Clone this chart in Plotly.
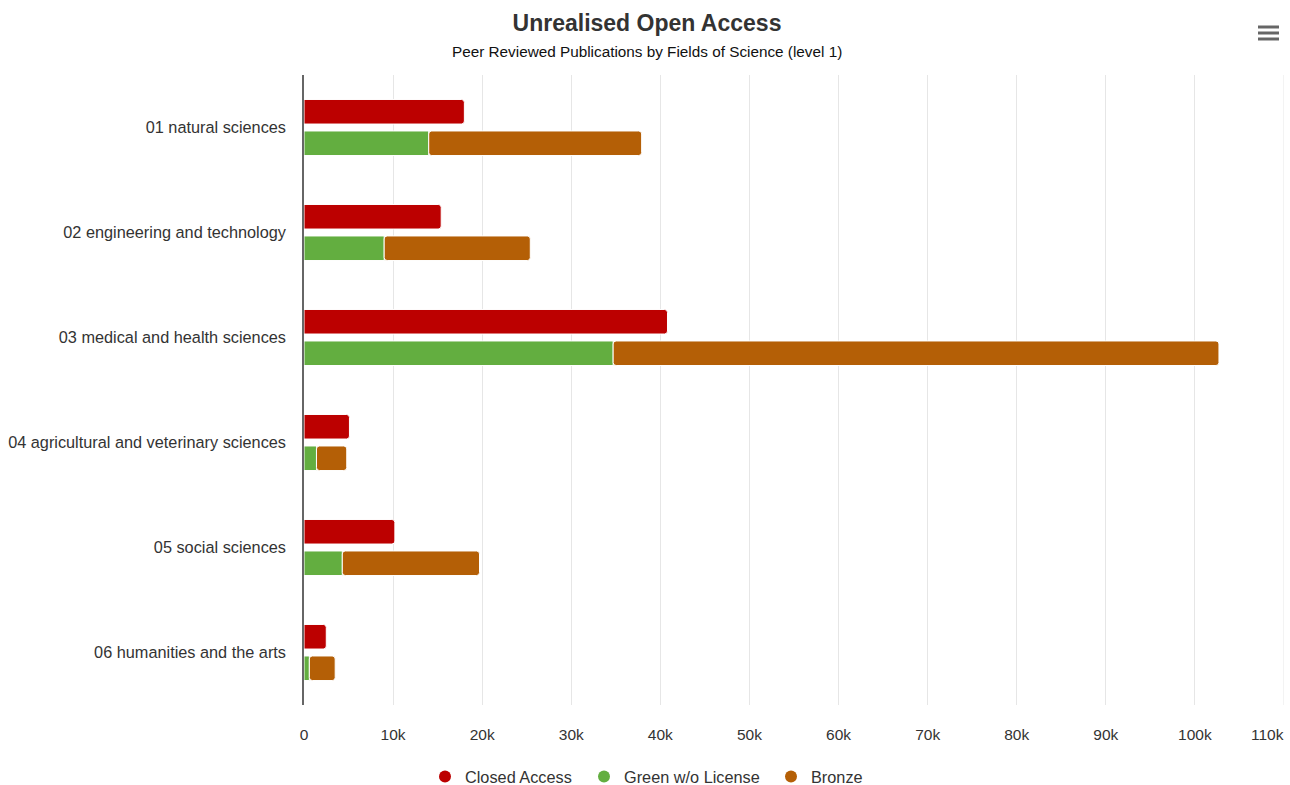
import plotly.graph_objects as go

categories = [
    "01 natural sciences",
    "02 engineering and technology",
    "03 medical and health sciences",
    "04 agricultural and veterinary sciences",
    "05 social sciences",
    "06 humanities and the arts",
]
closed_access = [18000, 15400, 40800, 5100, 10200, 2500]
green_no_license = [14000, 9000, 34700, 1400, 4300, 600]
bronze = [23900, 16400, 68000, 3400, 15400, 2900]

series_names = ["Closed Access", "Green w/o License", "Bronze"]
colors = ["#bc0000", "#63ae40", "#b45f06"]

x_max = 110000
x_tick_step = 10000
x_tick_values = list(range(0, 100001, x_tick_step))
x_tick_labels = ["0" if v == 0 else f"{v // 1000}k" for v in x_tick_values]
last_tick_label = "110k"

FONT = "Liberation Sans, Arial, Helvetica, sans-serif"

fig = go.Figure()
fig.add_trace(go.Bar(
    y=categories, x=closed_access, orientation="h", name=series_names[0],
    offsetgroup="a", marker=dict(color=colors[0], line=dict(color="white", width=1), cornerradius=3),
    showlegend=False,
))
fig.add_trace(go.Bar(
    y=categories, x=green_no_license, orientation="h", name=series_names[1],
    offsetgroup="b", marker=dict(color=colors[1], line=dict(color="white", width=1)),
    showlegend=False,
))
fig.add_trace(go.Bar(
    y=categories, x=bronze, base=green_no_license, orientation="h", name=series_names[2],
    offsetgroup="b", marker=dict(color=colors[2], line=dict(color="white", width=1), cornerradius=3),
    showlegend=False,
))

L, R, T, B = 304, 6, 75, 80
W, H = 1290, 785
pw, ph = W - L - R, H - T - B

def px_x(x):
    return (x - L) / pw

def px_y(y):
    return (H - B - y) / ph

# legend entries with circle symbols, each in its own legend box
legend_keys = ["legend", "legend2", "legend3"]
legend_circle_px = [445, 604, 791]
for name, c, lk in zip(series_names, colors, legend_keys):
    fig.add_trace(go.Scatter(
        x=[None], y=[None], mode="markers", name=name, legend=lk,
        marker=dict(color=c, size=16, symbol="circle"),
    ))

legend_layout = {}
for lk, cx in zip(legend_keys, legend_circle_px):
    legend_layout[lk] = dict(
        orientation="h", x=px_x(cx - 20), xanchor="left", y=px_y(777), yanchor="middle",
        font=dict(size=16.3, color="#333333", family=FONT), itemsizing="constant",
        itemwidth=30, bgcolor="rgba(0,0,0,0)",
    )

shapes = []
for yy in (27, 33, 39):
    shapes.append(dict(type="line", xref="paper", yref="paper",
                       x0=px_x(1258), x1=px_x(1279), y0=px_y(yy), y1=px_y(yy),
                       line=dict(color="#666666", width=3)))

fig.update_layout(
    width=W, height=H,
    margin=dict(l=L, r=R, t=T, b=B, autoexpand=False),
    paper_bgcolor="white", plot_bgcolor="white",
    font=dict(family=FONT, color="#333333"),
    barmode="group", bargap=0.4, bargroupgap=0.22,
    title=dict(text="<b>Unrealised Open Access</b>", x=647 / W, xanchor="center",
               y=1 - 23 / H, yanchor="middle", xref="container", yref="container",
               font=dict(size=23, color="#333333", family=FONT)),
    annotations=[
        dict(text="Peer Reviewed Publications by Fields of Science (level 1)",
             xref="paper", yref="paper", x=px_x(647), y=px_y(52),
             xanchor="center", yanchor="middle", showarrow=False,
             font=dict(size=15.3, color="#111111", family=FONT)),
        dict(text=last_tick_label, xref="x", yref="paper", x=x_max, y=px_y(734),
             xanchor="right", yanchor="middle", showarrow=False, xshift=2,
             font=dict(size=15.5, color="#333333", family=FONT)),
    ],
    xaxis=dict(range=[0, x_max], tickvals=x_tick_values, ticktext=x_tick_labels,
               showgrid=True, gridcolor="#e6e6e6", gridwidth=1, zeroline=False,
               showline=False, ticks="", tickfont=dict(size=15.5, color="#333333"),
               ticklabelstandoff=18, fixedrange=True),
    yaxis=dict(type="category", autorange="reversed", showgrid=False, zeroline=False,
               showline=True, linecolor="#666666", linewidth=1.5, ticks="",
               tickfont=dict(size=16.3, color="#333333"), ticklabelstandoff=13,
               fixedrange=True),
    shapes=shapes,
    showlegend=True,
    **legend_layout,
)
# gridline at the 110k end of the axis
fig.add_vline(x=x_max, line=dict(color="#e6e6e6", width=1), layer="below")

fig.write_html("out.html", config={"displayModeBar": False},
               post_script="document.body.style.margin='0';document.body.style.padding='0';")
